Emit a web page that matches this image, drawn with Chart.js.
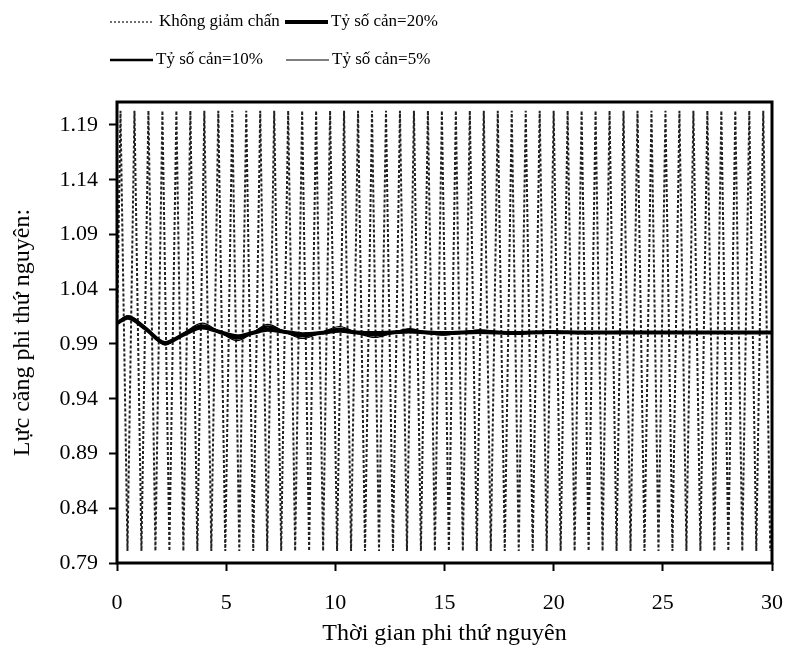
<!DOCTYPE html>
<html>
<head>
<meta charset="utf-8">
<script src="https://cdn.jsdelivr.net/npm/chart.js@4/dist/chart.umd.min.js"></script>
<style>
  html, body { margin: 0; padding: 0; background: #fff; }
  #wrap { width: 788px; height: 650px; }
</style>
</head>
<body>
<div id="wrap"><canvas id="forceChart" width="788" height="650"></canvas></div>
<script>
// Không giảm chấn: đỉnh/đáy của dao động
const undampedTime = [0, 0.16, 0.48, 0.80, 1.12, 1.44, 1.76, 2.08, 2.40, 2.72, 3.04, 3.36, 3.68,
  4.00, 4.32, 4.64, 4.96, 5.28, 5.60, 5.92, 6.24, 6.56, 6.88, 7.20, 7.52, 7.84, 8.16, 8.48, 8.80,
  9.12, 9.44, 9.76, 10.08, 10.40, 10.72, 11.04, 11.36, 11.68, 12.00, 12.32, 12.64, 12.96, 13.28,
  13.60, 13.92, 14.24, 14.56, 14.88, 15.20, 15.52, 15.84, 16.16, 16.48, 16.80, 17.12, 17.44, 17.76,
  18.08, 18.40, 18.72, 19.04, 19.36, 19.68, 20.00, 20.32, 20.64, 20.96, 21.28, 21.60, 21.92, 22.24,
  22.56, 22.88, 23.20, 23.52, 23.84, 24.16, 24.48, 24.80, 25.12, 25.44, 25.76, 26.08, 26.40, 26.72,
  27.04, 27.36, 27.68, 28.00, 28.32, 28.64, 28.96, 29.28, 29.60, 29.92];
const undampedForce = [1.000, 1.203, 0.801, 1.203, 0.801, 1.203, 0.801, 1.203, 0.801, 1.203, 0.801,
  1.203, 0.801, 1.203, 0.801, 1.203, 0.801, 1.203, 0.801, 1.203, 0.801, 1.203, 0.801, 1.203, 0.801,
  1.203, 0.801, 1.203, 0.801, 1.203, 0.801, 1.203, 0.801, 1.203, 0.801, 1.203, 0.801, 1.203, 0.801,
  1.203, 0.801, 1.203, 0.801, 1.203, 0.801, 1.203, 0.801, 1.203, 0.801, 1.203, 0.801, 1.203, 0.801,
  1.203, 0.801, 1.203, 0.801, 1.203, 0.801, 1.203, 0.801, 1.203, 0.801, 1.203, 0.801, 1.203, 0.801,
  1.203, 0.801, 1.203, 0.801, 1.203, 0.801, 1.203, 0.801, 1.203, 0.801, 1.203, 0.801, 1.203, 0.801,
  1.203, 0.801, 1.203, 0.801, 1.203, 0.801, 1.203, 0.801, 1.203, 0.801, 1.203, 0.801, 1.203, 0.801];

// Các đường có giảm chấn
const dampedTime = [0, 0.5, 1.3, 2.2, 3.0, 3.9, 4.7, 5.5, 6.2, 6.9, 7.7, 8.5, 9.3, 10.2, 11.0,
  11.8, 12.6, 13.4, 14.2, 15.0, 16.6, 18.2, 19.8, 21.4, 23.0, 26.0, 30.0];
const ratio20 = [1.009, 1.014, 1.004, 0.991, 0.998, 1.005, 1.001, 0.997, 1.000, 1.003, 1.001, 0.999,
  1.000, 1.002, 1.0005, 1.000, 1.0005, 1.0015, 1.0005, 1.000, 1.001, 1.000, 1.001, 1.0005, 1.0005, 1.0005, 1.0005];
const ratio10 = [1.009, 1.015, 1.005, 0.990, 0.999, 1.007, 1.001, 0.995, 1.000, 1.006, 1.001, 0.997,
  1.000, 1.004, 1.000, 0.998, 1.000, 1.003, 1.000, 0.999, 1.002, 1.000, 1.001, 1.000, 1.001, 1.0005, 1.0005];
const ratio5 = [1.009, 1.016, 1.005, 0.989, 0.999, 1.009, 1.001, 0.993, 1.000, 1.008, 1.001, 0.995,
  1.000, 1.006, 1.000, 0.996, 1.000, 1.004, 1.000, 0.998, 1.003, 0.999, 1.002, 1.000, 1.001, 1.0005, 1.0005];

const yTicks = [0.79, 0.84, 0.89, 0.94, 0.99, 1.04, 1.09, 1.14, 1.19];
const xTicks = [0, 5, 10, 15, 20, 25, 30];
const labels = ['Không giảm chấn', 'Tỷ số cản=20%', 'Tỷ số cản=10%', 'Tỷ số cản=5%'];

const FONT = '"Liberation Serif", "Times New Roman", serif';

function pts(xs, ys) {
  return xs.map((x, i) => ({ x: x, y: ys[i] }));
}

// chú thích 2 hàng như hình gốc
const legendSlots = [[110, 22], [285, 22], [110, 60], [286, 60]];
const legendTextGap = [6, 3, 3, 3];
const twoRowLegend = {
  id: 'twoRowLegend',
  afterDraw(chart) {
    const ctx = chart.ctx;
    ctx.save();
    chart.data.datasets.forEach((ds, i) => {
      const [x, y] = legendSlots[i];
      ctx.beginPath();
      ctx.strokeStyle = ds.borderColor;
      ctx.lineWidth = i === 0 ? 1.3 : ds.borderWidth;
      ctx.setLineDash(i === 0 ? [2, 2] : []);
      ctx.moveTo(x, y);
      ctx.lineTo(x + 43, y);
      ctx.stroke();
      ctx.setLineDash([]);
      ctx.fillStyle = '#000';
      ctx.font = '17px ' + FONT;
      ctx.textBaseline = 'middle';
      ctx.fillText(ds.label, x + 43 + legendTextGap[i], y);
    });
    ctx.restore();
  }
};

const plotFrame = {
  id: 'plotFrame',
  afterDatasetsDraw(chart) {
    const a = chart.chartArea;
    const ctx = chart.ctx;
    ctx.save();
    ctx.strokeStyle = '#000';
    ctx.lineWidth = 3;
    ctx.strokeRect(a.left, a.top, a.right - a.left, a.bottom - a.top);
    ctx.restore();
  }
};

const ctx = document.getElementById('forceChart').getContext('2d');
new Chart(ctx, {
  type: 'line',
  data: {
    datasets: [
      {
        label: labels[0],
        data: pts(undampedTime, undampedForce),
        borderColor: '#222',
        borderWidth: 2,
        borderDash: [3, 2],
        pointRadius: 0,
        order: 4
      },
      {
        label: labels[1],
        data: pts(dampedTime, ratio20),
        borderColor: '#000',
        borderWidth: 4,
        pointRadius: 0,
        cubicInterpolationMode: 'monotone',
        order: 1
      },
      {
        label: labels[2],
        data: pts(dampedTime, ratio10),
        borderColor: '#000',
        borderWidth: 2.5,
        pointRadius: 0,
        cubicInterpolationMode: 'monotone',
        order: 2
      },
      {
        label: labels[3],
        data: pts(dampedTime, ratio5),
        borderColor: '#000',
        borderWidth: 1.2,
        pointRadius: 0,
        cubicInterpolationMode: 'monotone',
        order: 3
      }
    ]
  },
  options: {
    responsive: false,
    animation: false,
    layout: { padding: { top: 102, right: 16, left: 0, bottom: 0 } },
    plugins: {
      legend: { display: false },
      tooltip: { enabled: false }
    },
    scales: {
      x: {
        type: 'linear',
        min: 0,
        max: 30,
        afterBuildTicks: s => { s.ticks = xTicks.map(v => ({ value: v })); },
        afterFit: s => { s.height = 87; s.paddingLeft = 0; s.paddingRight = 0; },
        border: { display: false },
        grid: { drawOnChartArea: false, drawTicks: true, tickLength: 8, tickWidth: 2, tickColor: '#000' },
        ticks: { color: '#000', font: { family: FONT, size: 22 }, padding: 19, maxRotation: 0 },
        title: {
          display: true,
          text: 'Thời gian phi thứ nguyên',
          color: '#000',
          font: { family: FONT, size: 24 },
          padding: { top: 0, bottom: 2 }
        }
      },
      y: {
        min: 0.79,
        max: 1.211,
        afterBuildTicks: s => { s.ticks = yTicks.map(v => ({ value: v })); },
        afterFit: s => { s.width = 117; },
        border: { display: false },
        grid: { drawOnChartArea: false, drawTicks: true, tickLength: 8, tickWidth: 2, tickColor: '#000' },
        ticks: {
          color: '#000',
          font: { family: FONT, size: 22 },
          padding: 11,
          callback: v => v.toFixed(2)
        },
        title: {
          display: true,
          text: 'Lực căng phi thứ nguyên:',
          color: '#000',
          font: { family: FONT, size: 24 },
          padding: { top: 8, bottom: 0 }
        }
      }
    }
  },
  plugins: [twoRowLegend, plotFrame]
});
</script>
</body>
</html>
